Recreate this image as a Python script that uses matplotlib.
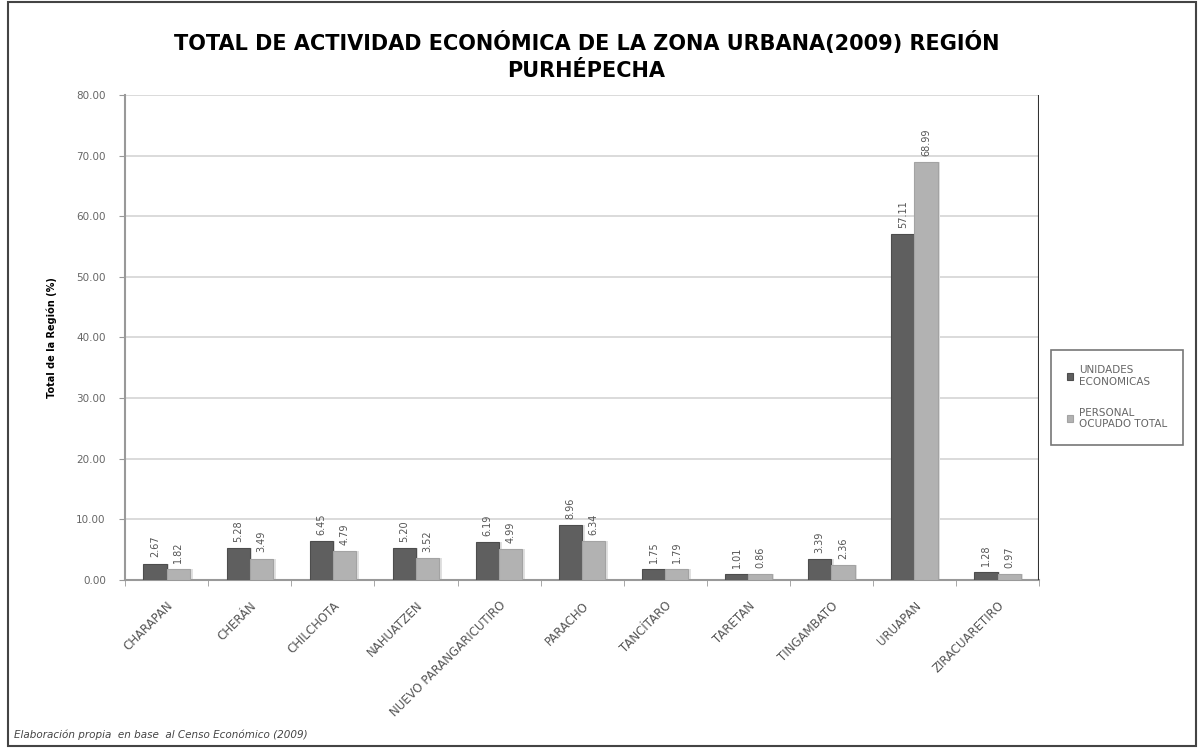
import numpy as np
import matplotlib.pyplot as plt
from matplotlib.patches import Rectangle

municipios = ['CHARAPAN', 'CHERÁN', 'CHILCHOTA', 'NAHUATZEN', 'NUEVO PARANGARICUTIRO',
              'PARACHO', 'TANCÍTARO', 'TARETAN', 'TINGAMBATO', 'URUAPAN', 'ZIRACUARETIRO']
unidades = [2.67, 5.28, 6.45, 5.20, 6.19, 8.96, 1.75, 1.01, 3.39, 57.11, 1.28]
personal = [1.82, 3.49, 4.79, 3.52, 4.99, 6.34, 1.79, 0.86, 2.36, 68.99, 0.97]

fig = plt.figure(figsize=(12.04, 7.48), dpi=100)
ax = fig.add_axes([0.104, 0.225, 0.759, 0.648])

x = np.arange(len(municipios))
w = 0.28
# light "shadow" behind the bars, as in the spreadsheet chart
ax.bar(x - w/2 + 0.03, unidades, w, color='#e0e0e0', zorder=2)
ax.bar(x + w/2 + 0.03, personal, w, color='#e0e0e0', zorder=2)
b1 = ax.bar(x - w/2, unidades, w, color='#5f5f5f', edgecolor='#4d4d4d', linewidth=0.8,
            label='UNIDADES\nECONOMICAS', zorder=3)
b2 = ax.bar(x + w/2, personal, w, color='#b2b2b2', edgecolor='#a3a3a3', linewidth=0.8,
            label='PERSONAL\nOCUPADO TOTAL', zorder=3)

for xi, v in zip(x - w/2, unidades):
    ax.text(xi, v + 1.0, '%.2f' % v, rotation=90, ha='center', va='bottom',
            fontsize=7, color='#555555')
for xi, v in zip(x + w/2, personal):
    ax.text(xi, v + 1.0, '%.2f' % v, rotation=90, ha='center', va='bottom',
            fontsize=7, color='#555555')

ax.set_ylim(0, 80)
ax.set_xlim(-0.5, len(municipios) - 0.5)
ax.set_yticks(np.arange(0, 81, 10))
ax.set_yticklabels(['%.2f' % t for t in np.arange(0, 81, 10)], fontsize=7.5, color='#666666')
ax.yaxis.grid(True, color='#d4d4d4', linewidth=1.2, zorder=0)
ax.set_axisbelow(True)
ax.set_xticks(x)
ax.set_xticklabels(municipios, rotation=45, ha='right', rotation_mode='anchor',
                   fontsize=8.5, color='#555555')
ax.set_xticks(np.arange(-0.5, len(municipios)), minor=True)
ax.tick_params(axis='x', which='major', length=0, pad=14)
ax.tick_params(axis='x', which='minor', length=4, color='#999999')
ax.tick_params(axis='y', length=4, color='#999999', pad=10)
for s in ['top', 'right']:
    ax.spines[s].set_visible(False)
ax.spines['left'].set_color('#999999')
ax.spines['bottom'].set_color('#999999')
ax.spines['left'].set_linewidth(1.5)
ax.spines['bottom'].set_linewidth(1.5)
ax.set_ylabel('Total de la Región (%)', fontsize=7, fontweight='bold', labelpad=14)

# right edge of plot area
ax.axvline(len(municipios) - 0.5, color='#333333', linewidth=1.5, zorder=4)

fig.text(0.487, 0.925, 'TOTAL DE ACTIVIDAD ECONÓMICA DE LA ZONA URBANA(2009) REGIÓN\nPURHÉPECHA',
         ha='center', va='center', fontsize=15, fontweight='bold', linespacing=1.45)

leg = fig.legend(handles=[b1, b2], loc='center left', bbox_to_anchor=(0.873, 0.469),
                 fontsize=7.5, frameon=True, fancybox=False, edgecolor='#555555',
                 handlelength=0.6, handleheight=0.6, labelspacing=2.0, borderpad=1.5,
                 handletextpad=0.6, borderaxespad=0)
leg.get_frame().set_linewidth(1.2)
for t in leg.get_texts():
    t.set_color('#666666')

fig.text(0.012, 0.013, 'Elaboración propia  en base  al Censo Económico (2009)',
         fontsize=7.5, style='italic', color='#444444')

fig.patches.append(Rectangle((0.007, 0.003), 0.986, 0.994, transform=fig.transFigure,
                             fill=False, edgecolor='#444444', linewidth=1.5))

fig.savefig('out.png', dpi=100)
